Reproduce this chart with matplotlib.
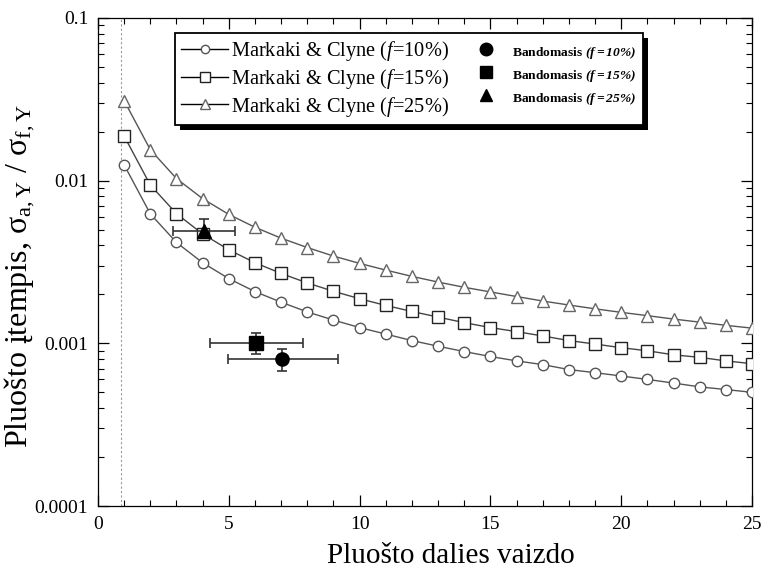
import matplotlib.pyplot as plt
from matplotlib.lines import Line2D
from matplotlib.patches import Rectangle

plt.rcParams['font.family'] = ['Liberation Serif', 'DejaVu Serif']
plt.rcParams['mathtext.fontset'] = 'custom'
plt.rcParams['mathtext.rm'] = 'Liberation Serif'
plt.rcParams['mathtext.it'] = 'Liberation Serif:italic'
plt.rcParams['mathtext.bf'] = 'Liberation Serif:bold'
plt.rcParams['mathtext.bfit'] = 'Liberation Serif:italic:bold'

# Pluošto dalies vaizdo (aspect ratio)
s = list(range(1, 26))

# Markaki & Clyne modelio kreivės
f10 = [0.0125, 0.00625, 0.00417, 0.00313, 0.0025, 0.00208, 0.00179, 0.00156,
       0.00139, 0.00125, 0.00114, 0.00104, 0.00096, 0.00089, 0.00083, 0.00078,
       0.00074, 0.00069, 0.00066, 0.00063, 0.0006, 0.00057, 0.00054, 0.00052, 0.0005]
f15 = [0.0188, 0.0094, 0.00627, 0.0047, 0.00376, 0.00313, 0.00269, 0.00235,
       0.00209, 0.00188, 0.00171, 0.00157, 0.00145, 0.00134, 0.00125, 0.00118,
       0.00111, 0.00104, 0.00099, 0.00094, 0.0009, 0.00085, 0.00082, 0.00078, 0.00075]
f25 = [0.031, 0.0155, 0.0103, 0.00775, 0.0062, 0.00517, 0.00443, 0.00388,
       0.00344, 0.0031, 0.00282, 0.00258, 0.00238, 0.00221, 0.00207, 0.00194,
       0.00182, 0.00172, 0.00163, 0.00155, 0.00148, 0.00141, 0.00135, 0.00129, 0.00124]

# Bandymų rezultatai: f=10%, 15%, 25%
exp_x = [7.05, 6.05, 4.05]
exp_y = [0.0008, 0.001, 0.0049]
exp_xlo = [2.07, 1.77, 1.18]
exp_xhi = [2.11, 1.80, 1.20]
exp_ylo = [0.00012, 0.00014, 0.00045]
exp_yhi = [0.00012, 0.00015, 0.0009]

vline_x = 0.88

fig = plt.figure(figsize=(7.62, 5.76), dpi=100)
ax = fig.add_axes([0.1286, 0.1215, 0.8583, 0.8473])

ax.axvline(vline_x, color='#999999', lw=0.8, ls=(0, (2, 2)), zorder=1)

ax.plot(s, f10, '-', color='#555555', lw=1.0, marker='o', ms=7.5,
        mfc='white', mec='#555555', mew=1.0, zorder=3)
ax.plot(s, f15, '-', color='#444444', lw=1.0, marker='s', ms=8,
        mfc='white', mec='#222222', mew=1.0, zorder=3)
ax.plot(s, f25, '-', color='#555555', lw=1.0, marker='^', ms=8,
        mfc='white', mec='#666666', mew=1.0, zorder=3)

for i, m in enumerate(['o', 's', '^']):
    ax.errorbar(exp_x[i], exp_y[i],
                xerr=[[exp_xlo[i]], [exp_xhi[i]]],
                yerr=[[exp_ylo[i]], [exp_yhi[i]]],
                fmt=m, color='black', ms=9.5, ecolor='#333333', elinewidth=1.2,
                capsize=3.5, capthick=1.2, zorder=4)

ax.set_yscale('log')
ax.set_xlim(0, 25)
ax.set_ylim(0.0001, 0.1)
ax.set_xticks([0, 5, 10, 15, 20, 25])
ax.set_xticks(range(0, 26), minor=True)
ax.set_yticks([0.0001, 0.001, 0.01, 0.1])
ax.set_yticklabels(['0.0001', '0.001', '0.01', '0.1'])
ax.tick_params(which='both', direction='in', top=True, right=True,
               labelsize=14, pad=7)
ax.tick_params(which='major', length=8, width=0.9)
ax.tick_params(which='minor', length=4, width=0.8)
for sp in ax.spines.values():
    sp.set_linewidth(0.9)

ax.set_xlabel('Pluošto dalies vaizdo', fontsize=21, labelpad=10)
ax.xaxis.set_label_coords(0.54, -0.075)
ax.set_ylabel('Pluošto įtempis, σ$_{\\mathrm{a,Y}}$ / σ$_{\\mathrm{f,Y}}$',
              fontsize=23, labelpad=6)
ax.yaxis.set_label_coords(-0.093, 0.47)

handles = [
    Line2D([], [], color='black', lw=1.0, marker='o', ms=6, mfc='white', mec='#555555'),
    Line2D([], [], color='black', lw=1.0, marker='s', ms=7, mfc='white', mec='#222222'),
    Line2D([], [], color='black', lw=1.0, marker='^', ms=7, mfc='white', mec='#666666'),
    Line2D([], [], ls='none', marker='o', ms=9, color='black'),
    Line2D([], [], ls='none', marker='s', ms=9, color='black'),
    Line2D([], [], ls='none', marker='^', ms=9, color='black'),
]
labels = [
    'Markaki & Clyne ($f$=10%)',
    'Markaki & Clyne ($f$=15%)',
    'Markaki & Clyne ($f$=25%)',
    'Bandomasis $\\mathbfit{(f{=}10\\%)}$',
    'Bandomasis $\\mathbfit{(f{=}15\\%)}$',
    'Bandomasis $\\mathbfit{(f{=}25\\%)}$',
]
leg = ax.legend(handles, labels, ncol=2, loc='upper left',
                bbox_to_anchor=(0.118, 0.969), borderaxespad=0, fontsize=14.7,
                fancybox=False, shadow=False,
                edgecolor='black', framealpha=1, handlelength=2.3,
                handletextpad=0.15, columnspacing=0.64, labelspacing=0.18,
                borderpad=0.3)
leg.get_frame().set_linewidth(1.3)
for t in leg.get_texts()[3:]:
    t.set_fontsize(9.7)
    t.set_fontweight('bold')

# šešėlis už legendos
fig.canvas.draw()
bb = leg.get_window_extent()
inv = ax.transAxes.inverted()
(x0, y0), (x1, y1) = inv.transform([[bb.x0 + 5, bb.y0 - 5], [bb.x1 + 5, bb.y1 - 5]])
ax.add_patch(Rectangle((x0, y0), x1 - x0, y1 - y0, transform=ax.transAxes,
                       facecolor='black', edgecolor='none', clip_on=False, zorder=4.9))

fig.savefig('out.png', dpi=100)
